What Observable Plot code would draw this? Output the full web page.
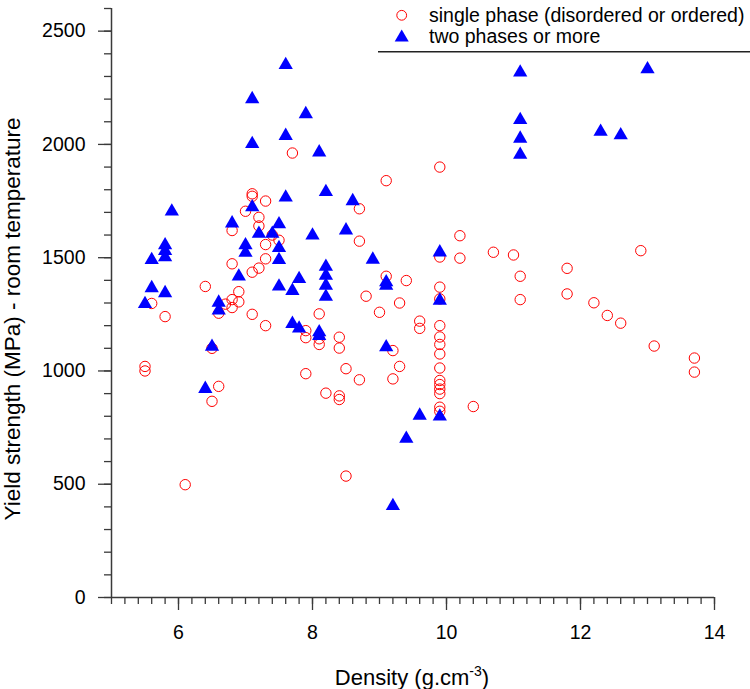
<!DOCTYPE html>
<html><head><meta charset="utf-8">
<script src="https://cdn.jsdelivr.net/npm/d3@7"></script>
<script src="https://cdn.jsdelivr.net/npm/@observablehq/plot@0.6"></script>
<style>html,body{margin:0;padding:0;background:#fff;}#chart{width:750px;height:689px;}</style>
</head><body><div id="chart"></div>
<script>
// single phase (disordered or ordered)
const singleDensity = [5.5,5.5,5.6,5.8,6.1,6.4,6.5,6.5,6.6,6.6,6.7,6.8,6.8,6.8,6.8,6.9,6.9,7.0,7.1,7.1,7.1,7.1,7.2,7.2,7.2,7.3,7.3,7.3,7.3,7.4,7.5,7.7,7.9,7.9,7.9,8.1,8.1,8.1,8.2,8.4,8.4,8.4,8.4,8.5,8.5,8.7,8.7,8.7,8.8,9.0,9.1,9.1,9.2,9.2,9.3,9.3,9.4,9.6,9.6,9.9,9.9,9.9,9.9,9.9,9.9,9.9,9.9,9.9,9.9,9.9,9.9,9.9,9.9,9.9,10.2,10.2,10.4,10.7,11.0,11.1,11.1,11.8,11.8,12.2,12.4,12.6,12.9,13.1,13.7,13.7];
const singleYield   = [1020,1000,1298,1240,498,1373,1100,866,1255,932,1295,1620,1473,1315,1280,1350,1305,1705,1782,1771,1436,1250,1678,1640,1454,1750,1558,1495,1200,1600,1577,1962,1178,1147,988,1252,1142,1117,902,1149,1101,890,874,1010,536,1716,1573,961,1330,1259,1840,1418,1090,965,1300,1020,1399,1220,1188,1900,1503,1370,1318,1200,1150,1117,1075,1013,958,940,920,900,840,822,1597,1498,843,1524,1512,1418,1315,1453,1340,1301,1245,1211,1531,1110,1057,995];
// two phases or more
const multiDensity = [5.5,5.6,5.6,5.8,5.8,5.8,5.8,5.9,6.4,6.5,6.6,6.6,6.8,6.9,7.0,7.0,7.1,7.1,7.1,7.2,7.4,7.5,7.5,7.5,7.5,7.6,7.6,7.6,7.7,7.7,7.8,7.8,7.9,8.0,8.1,8.1,8.1,8.2,8.2,8.2,8.2,8.2,8.5,8.6,8.9,9.1,9.1,9.1,9.2,9.4,9.6,9.9,9.9,9.9,11.1,11.1,11.1,11.1,12.3,12.6,13.0];
const multiYield   = [1296,1490,1366,1555,1530,1502,1344,1704,921,1107,1302,1267,1652,1417,1555,1522,2200,2002,1723,1606,1606,1648,1543,1490,1373,2351,2038,1766,1354,1208,1406,1188,2134,1598,1965,1171,1155,1790,1460,1421,1377,1328,1621,1750,1492,1392,1377,1105,404,701,803,1524,1311,799,2318,2108,2026,1955,2056,2041,2332];

const xMajorTicks = [6, 8, 10, 12, 14];
const yMajorTicks = [0, 500, 1000, 1500, 2000, 2500];
const legendLabels = ["single phase (disordered or ordered)", "two phases or more"];
const xTitleMain = "Density (g.cm";
const xTitleSup = "-3";
const xTitleEnd = ")";
const yTitle = "Yield strength (MPa) - room temperature";

const single = singleDensity.map((d, i) => ({density: d, yield: singleYield[i]}));
const multi = multiDensity.map((d, i) => ({density: d, yield: multiYield[i]}));
const xMinorTicks = d3.range(0, 46).map(i => +(5 + i * 0.2).toFixed(1));
const yMinorTicks = d3.range(0, 27).map(i => i * 100);

const axisColor = "#3a3a3a";
const font = "'Liberation Sans', Arial, sans-serif";
const chart = Plot.plot({
  width: 750,
  height: 689,
  marginLeft: 111,
  marginRight: 36,
  marginTop: 8,
  marginBottom: 92,
  style: {fontFamily: font, fontSize: "19.5px", background: "#fff", color: "#000"},
  x: {domain: [5, 14]},
  y: {domain: [0, 2600]},
  marks: [
    Plot.axisY({ticks: yMinorTicks, tickSize: 7, tickFormat: () => "", stroke: axisColor, strokeWidth: 1.3, label: null}),
    Plot.axisY({ticks: yMajorTicks, tickSize: 13, tickPadding: 13, tickFormat: d => String(d), stroke: axisColor, strokeWidth: 1.3, fill: "#000", label: null}),
    Plot.axisX({ticks: xMinorTicks, tickSize: 7, tickFormat: () => "", stroke: axisColor, strokeWidth: 1.3, label: null}),
    Plot.axisX({ticks: xMajorTicks, tickSize: 13, tickPadding: 15, tickFormat: d => String(d), stroke: axisColor, strokeWidth: 1.3, fill: "#000", label: null}),
    Plot.ruleX([5], {stroke: axisColor, strokeWidth: 1.5}),
    Plot.ruleY([0], {stroke: axisColor, strokeWidth: 1.5}),
    Plot.dot(single, {x: "density", y: "yield", r: 5.2, stroke: "#ff0000", strokeWidth: 1, fill: "none"}),
    Plot.dot(multi, {x: "density", y: "yield", symbol: "triangle", r: 5.3, fill: "#0000ff", stroke: "none"})
  ]
});
document.getElementById("chart").appendChild(chart);

// legend and titles
const svg = d3.select(chart);
const lg = svg.append("g").attr("font-family", font).attr("font-size", "19.5px").attr("text-anchor", "start");
lg.append("circle").attr("cx", 401.7).attr("cy", 15.3).attr("r", 4.9).attr("fill", "none").attr("stroke", "#ff0000").attr("stroke-width", 1);
lg.append("path").attr("d", d3.symbol(d3.symbolTriangle, Math.PI * 5.2 * 5.2)()).attr("transform", "translate(401.7,37.5)").attr("fill", "#0000ff");
lg.append("text").attr("x", 429).attr("y", 21.5).attr("text-anchor", "start").attr("fill", "#000").text(legendLabels[0]);
lg.append("text").attr("x", 429).attr("y", 43).attr("text-anchor", "start").attr("fill", "#000").text(legendLabels[1]);
lg.append("line").attr("x1", 378).attr("x2", 750).attr("y1", 51.7).attr("y2", 51.7).attr("stroke", "#222").attr("stroke-width", 1.5);

const xt = svg.append("text").attr("x", 412).attr("y", 685).attr("text-anchor", "middle")
  .attr("font-family", font).attr("font-size", "22px").attr("fill", "#000");
xt.append("tspan").text(xTitleMain);
xt.append("tspan").attr("dy", -9).attr("font-size", "14px").text(xTitleSup);
xt.append("tspan").attr("dy", 9).text(xTitleEnd);

svg.append("text").attr("transform", "translate(20,319) rotate(-90)").attr("text-anchor", "middle")
  .attr("font-family", font).attr("font-size", "22.5px").attr("fill", "#000").text(yTitle);
</script>
</body></html>
